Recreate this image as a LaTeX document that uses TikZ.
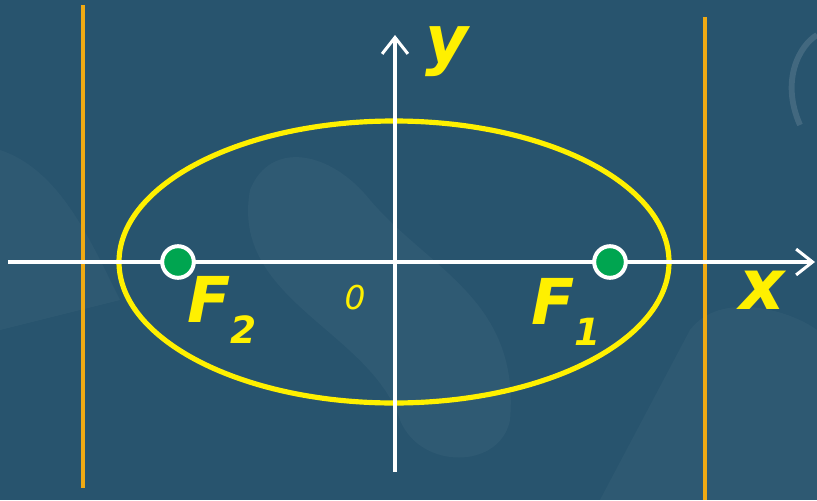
\documentclass[tikz,border=0pt]{standalone}
\usepackage{fontspec}
\setmainfont{DejaVu Sans}
\usepackage{tikz}
\usetikzlibrary{arrows.meta, positioning, calc}
\definecolor{bgblue}{RGB}{40, 84, 110}
\definecolor{ellyellow}{RGB}{255, 240, 0}
\definecolor{dirorange}{RGB}{240, 170, 20}
\definecolor{focusgreen}{RGB}{0, 165, 80}

\begin{document}
\begin{tikzpicture}[x=0.03cm, y=-0.03cm, every node/.style={font=\bfseries\itshape, text=ellyellow},
    axisline/.style={draw=white, line width=3pt, -{Straight Barb[length=14pt, width=22pt, line width=2.6pt]}},
    focus/.style={circle, fill=focusgreen, draw=white, line width=3.4pt, minimum size=27pt, inner sep=0pt}]
    % 背景
    \useasboundingbox (0,0) rectangle (817,500);
    \fill[bgblue] (0,0) rectangle (817,500);
    \fill[white, opacity=0.035] (250,190) .. controls (270,140) and (330,150) .. (370,200)
        .. controls (430,270) and (520,300) .. (510,420) .. controls (500,470) and (420,470) .. (400,420)
        .. controls (370,330) and (230,300) .. (250,190) -- cycle;
    \fill[white, opacity=0.03] (600,500) -- (690,330) .. controls (720,290) and (790,310) .. (817,330) -- (817,500) -- cycle;
    \draw[white, opacity=0.12, line width=5pt] (800,125) .. controls (780,80) and (800,45) .. (817,35);
    \fill[white, opacity=0.03] (0,150) .. controls (60,170) and (90,240) .. (120,300) -- (0,330) -- cycle;

    % 准线
    \foreach \name/\x/\ya/\yb in {dl/83/5/488, dr/705/17/500} {
        \coordinate (\name a) at (\x,\ya);
        \coordinate (\name b) at (\x,\yb);
        \draw[dirorange, line width=3pt] (\name a) -- (\name b);
    }

    % 椭圆
    \draw[ellyellow, line width=4.4pt] (394,262) ellipse [x radius=275, y radius=141];

    % 坐标轴
    \coordinate (xl) at (8,262);
    \coordinate (xr) at (815,262);
    \coordinate (yb) at (395,472);
    \coordinate (yt) at (395,35);
    \draw[axisline] (xl) -- (xr);
    \draw[axisline] (yb) -- (yt);

    % 焦点
    \node[focus] (F2) at (178,262) {};
    \node[focus] (F1) at (610,262) {};
    \node[font=\bfseries\itshape\fontsize{54}{54}\selectfont] (F2lbl) at (222,310) {F\raisebox{-0.32em}{\fontsize{32}{32}\selectfont 2}};
    \node[font=\bfseries\itshape\fontsize{54}{54}\selectfont] (F1lbl) at (566,312) {F\raisebox{-0.32em}{\fontsize{32}{32}\selectfont 1}};
    \node[font=\itshape\fontsize{28}{28}\selectfont] (O) at (355,298) {0};
    \node[font=\bfseries\itshape\fontsize{56}{56}\selectfont] (ylbl) at (447,52) {y};
    \node[font=\bfseries\itshape\fontsize{60}{60}\selectfont] (xlbl) at (762,290) {x};
\end{tikzpicture}
\end{document}
